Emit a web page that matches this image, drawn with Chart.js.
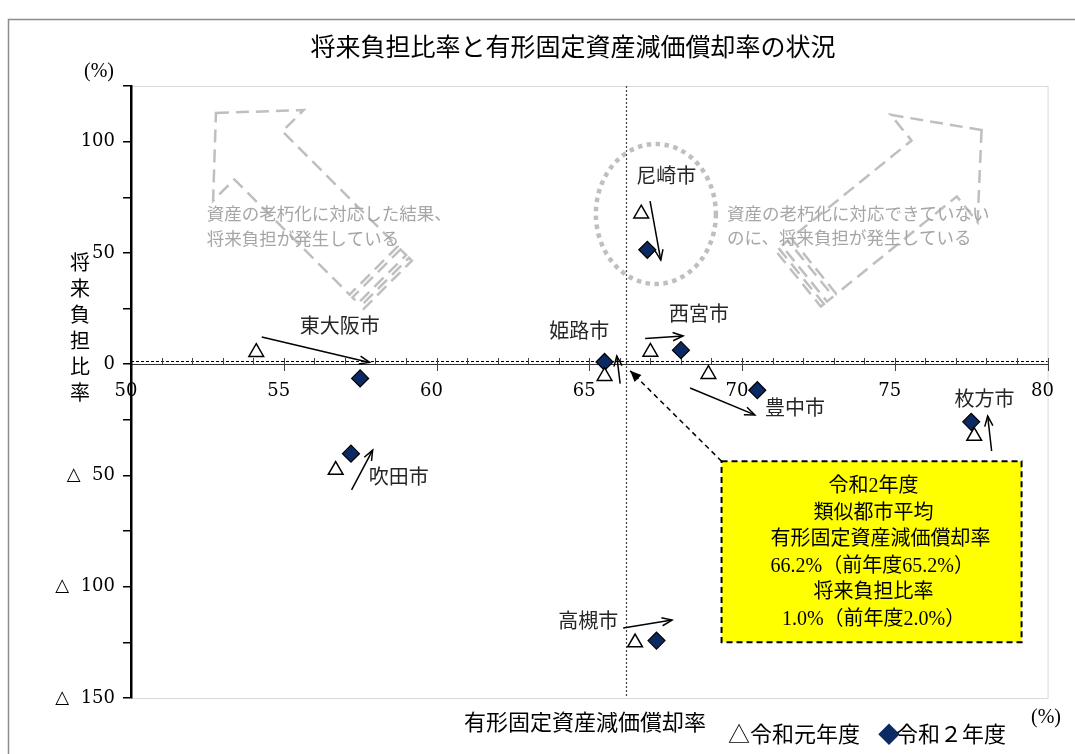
<!DOCTYPE html>
<html lang="ja">
<head>
<meta charset="utf-8">
<title>将来負担比率と有形固定資産減価償却率の状況</title>
<script src="https://cdn.jsdelivr.net/npm/chart.js"></script>
<style>
  html, body { margin: 0; padding: 0; background: #fff; }
  #wrap { width: 1075px; height: 754px; }
</style>
</head>
<body>
<div id="wrap"><canvas id="chart" width="1075" height="754"></canvas></div>
<script>
// 団体ごとの値（x: 有形固定資産減価償却率, y: 将来負担比率）
const cities = ['東大阪市', '吹田市', '姫路市', '西宮市', '尼崎市', '豊中市', '枚方市', '高槻市'];
const seriesNames = ['令和元年度', '令和２年度'];
const depRateR1 = [54.1, 56.7, 65.5, 67.0, 66.7, 68.9, 77.6, 66.5];
const debtRateR1 = [5.4, -47.6, -5.4, 5.5, 67.6, -4.5, -32.3, -125.1];
const depRateR2 = [57.5, 57.2, 65.5, 68.0, 66.9, 70.5, 77.5, 67.2];
const debtRateR2 = [-6.4, -40.2, 1.0, 6.3, 51.4, -11.7, -25.9, -124.2];

// 類似都市平均（令和2年度）
const avgDepRate = 66.2;
const avgDebtRate = 1.0;
const avgDepRatePrev = 65.2;
const avgDebtRatePrev = 2.0;

const xTicks = [50, 55, 60, 65, 70, 75, 80];
const yTicks = [100, 50, 0, -50, -100, -150];

// 団体名ラベルと推移矢印の位置（データ座標）
const labelX = [56.83, 58.76, 64.67, 68.59, 67.52, 71.73, 77.94, 64.97];
const labelY = [17.6, -50.6, 15.4, 23.0, 85.0, -19.2, -15.2, -115.0];
const arrowFromX = [54.28, 57.22, 66.01, 66.83, 66.99, 68.30, 78.17, 66.11];
const arrowFromY = [12.2, -56.5, -8.7, 11.5, 73.3, -10.7, -39.0, -118.5];
const arrowToX = [57.81, 57.91, 65.90, 68.07, 67.34, 70.42, 78.04, 67.71];
const arrowToY = [0.8, -38.6, 3.7, 12.7, 46.8, -22.8, -23.3, -115.0];

const JP = "'Noto Sans CJK JP', sans-serif";
const NUM = "'DejaVu Serif', 'Noto Sans CJK JP', serif";
const BOX = "'Liberation Serif', 'Noto Sans CJK JP', serif";
const GRAY = '#bfbfbf';

function arrow(ctx, x1, y1, x2, y2, filled) {
  const a = Math.atan2(y2 - y1, x2 - x1);
  const len = filled ? 12 : 11;
  const spread = filled ? 0.42 : 0.38;
  ctx.beginPath();
  ctx.moveTo(x1, y1);
  ctx.lineTo(x2, y2);
  ctx.stroke();
  ctx.setLineDash([]);
  ctx.beginPath();
  ctx.moveTo(x2 - len * Math.cos(a - spread), y2 - len * Math.sin(a - spread));
  ctx.lineTo(x2, y2);
  ctx.lineTo(x2 - len * Math.cos(a + spread), y2 - len * Math.sin(a + spread));
  if (filled) {
    ctx.closePath();
    ctx.fill();
  } else {
    ctx.stroke();
  }
}

// 縞模様の矢印（先端を原点に、ang の向きへ胴体が伸びる）
function stripedArrow(ctx, tx, ty, ang, g) {
  ctx.save();
  ctx.translate(tx, ty);
  ctx.rotate(ang);
  ctx.beginPath();
  ctx.moveTo(0, 0);
  ctx.lineTo(g.head, -g.headHalf);
  ctx.lineTo(g.head, -g.shaftHalf);
  ctx.lineTo(g.len - 20, -g.shaftHalf);
  ctx.lineTo(g.len - 20, g.shaftHalf);
  ctx.lineTo(g.head, g.shaftHalf);
  ctx.lineTo(g.head, g.headHalf);
  ctx.closePath();
  ctx.rect(g.len - 16, -g.shaftHalf, 8, 2 * g.shaftHalf);
  ctx.rect(g.len - 4, -g.shaftHalf, 4, 2 * g.shaftHalf);
  ctx.stroke();
  ctx.restore();
}

const decor = {
  id: 'decor',
  beforeDraw(chart) {
    const { ctx, chartArea: a, scales: { x, y } } = chart;
    ctx.save();
    ctx.fillStyle = '#fff';
    ctx.fillRect(0, 0, chart.width, chart.height);

    // 外枠
    ctx.strokeStyle = '#8c8c8c';
    ctx.lineWidth = 1.5;
    ctx.strokeRect(8.5, 19.5, 1100, 800);

    // プロットエリア枠
    ctx.strokeStyle = '#d9d9d9';
    ctx.lineWidth = 1;
    ctx.strokeRect(a.left + 0.5, a.top + 0.5, a.right - a.left, a.bottom - a.top);

    // 灰色の説明矢印
    ctx.strokeStyle = GRAY;
    ctx.lineWidth = 2.5;
    ctx.setLineDash([13, 7]);
    stripedArrow(ctx, x.getPixelForValue(52.78), y.getPixelForValue(112.9), Math.PI / 4,
      { head: 60, headHalf: 64, shaftHalf: 34, len: 243 });
    stripedArrow(ctx, x.getPixelForValue(77.84), y.getPixelForValue(105.2), 141 * Math.PI / 180,
      { head: 61, headHalf: 69, shaftHalf: 36, len: 236 });

    // 尼崎市を囲む点線
    ctx.setLineDash([4.5, 4.5]);
    ctx.lineWidth = 4.5;
    ctx.beginPath();
    ctx.ellipse(x.getPixelForValue(67.18), y.getPixelForValue(67.5), 60, 70, 0, 0, Math.PI * 2);
    ctx.stroke();

    ctx.setLineDash([]);
    ctx.fillStyle = '#a6a6a6';
    ctx.font = '17.5px ' + JP;
    ctx.textAlign = 'left';
    ctx.textBaseline = 'middle';
    ctx.fillText('資産の老朽化に対応した結果、', x.getPixelForValue(52.48), y.getPixelForValue(67.9));
    ctx.fillText('将来負担が発生している', x.getPixelForValue(52.48), y.getPixelForValue(56.7));
    ctx.fillText('資産の老朽化に対応できていない', x.getPixelForValue(69.51), y.getPixelForValue(67.9));
    ctx.fillText('のに、将来負担が発生している', x.getPixelForValue(69.51), y.getPixelForValue(57.2));
    ctx.restore();
  },
  beforeDatasetsDraw(chart) {
    const { ctx, chartArea: a, scales: { x, y } } = chart;
    ctx.save();
    // 類似都市平均の基準線
    const ax = Math.round(x.getPixelForValue(avgDepRate)) + 0.5;
    ctx.strokeStyle = '#404040';
    ctx.lineWidth = 1.2;
    ctx.setLineDash([2, 2]);
    ctx.beginPath();
    ctx.moveTo(ax, a.top);
    ctx.lineTo(ax, a.bottom);
    ctx.stroke();

    const ay = Math.round(y.getPixelForValue(avgDebtRate)) - 0.5;
    ctx.strokeStyle = '#000';
    ctx.lineWidth = 1;
    ctx.setLineDash([3, 2]);
    ctx.beginPath();
    ctx.moveTo(a.left, ay);
    ctx.lineTo(a.right, ay);
    ctx.stroke();

    // 横軸の目盛り
    ctx.setLineDash([]);
    ctx.strokeStyle = '#404040';
    const y0 = Math.round(y.getPixelForValue(0));
    for (let v = 51; v <= 80; v++) {
      const px = Math.round(x.getPixelForValue(v)) + 0.5;
      ctx.beginPath();
      ctx.moveTo(px, y0 - 6);
      ctx.lineTo(px, xTicks.includes(v) ? y0 + 7 : y0);
      ctx.stroke();
    }
    ctx.restore();
  },
  afterDatasetsDraw(chart) {
    const { ctx, scales: { x, y } } = chart;
    ctx.save();

    // 類似都市平均の吹き出し
    const bx1 = x.getPixelForValue(69.33), by1 = y.getPixelForValue(-43.6);
    const bx2 = x.getPixelForValue(79.15), by2 = y.getPixelForValue(-124.9);
    ctx.fillStyle = '#ffff00';
    ctx.fillRect(bx1, by1, bx2 - bx1, by2 - by1);
    ctx.strokeStyle = '#000';
    ctx.lineWidth = 2;
    ctx.setLineDash([6, 4]);
    ctx.strokeRect(bx1, by1, bx2 - bx1, by2 - by1);

    ctx.lineWidth = 1.5;
    ctx.setLineDash([5, 4]);
    ctx.fillStyle = '#000';
    arrow(ctx, bx1, by1, x.getPixelForValue(66.34), y.getPixelForValue(-3.0), true);

    ctx.setLineDash([]);
    ctx.fillStyle = '#000';
    ctx.textBaseline = 'middle';
    ctx.font = '20px ' + BOX;
    const cx = (bx1 + bx2) / 2 + 2;
    const lx = bx1 + 49;
    const lines = [
      ['令和2年度', 'c'],
      ['類似都市平均', 'c'],
      ['有形固定資産減価償却率', 'l'],
      [avgDepRate.toFixed(1) + '%（前年度' + avgDepRatePrev.toFixed(1) + '%）', 'l'],
      ['将来負担比率', 'c'],
      [avgDebtRate.toFixed(1) + '%（前年度' + avgDebtRatePrev.toFixed(1) + '%）', 'c']
    ];
    lines.forEach((ln, i) => {
      ctx.textAlign = ln[1] === 'c' ? 'center' : 'left';
      ctx.fillText(ln[0], ln[1] === 'c' ? cx : lx, by1 + 26 + i * 26.5);
    });

    // 前年度→今年度の推移矢印
    ctx.strokeStyle = '#000';
    ctx.lineWidth = 1.5;
    cities.forEach((c, i) => {
      arrow(ctx, x.getPixelForValue(arrowFromX[i]), y.getPixelForValue(arrowFromY[i]),
        x.getPixelForValue(arrowToX[i]), y.getPixelForValue(arrowToY[i]), false);
    });

    // 団体名
    ctx.fillStyle = '#262626';
    ctx.font = '20px ' + JP;
    ctx.textAlign = 'center';
    cities.forEach((c, i) => {
      ctx.fillText(c, x.getPixelForValue(labelX[i]), y.getPixelForValue(labelY[i]));
    });
    ctx.restore();
  },
  afterDraw(chart) {
    const { ctx } = chart;
    ctx.save();
    ctx.fillStyle = '#000';
    ctx.textBaseline = 'middle';
    ctx.textAlign = 'center';
    ctx.font = '25px ' + JP;
    ctx.fillText('将来負担比率と有形固定資産減価償却率の状況', 573, 46);

    ctx.font = "20px 'Liberation Serif', serif";
    ctx.fillText('(%)', 99, 72);
    ctx.fillText('(%)', 1046, 718);

    ctx.font = '20px ' + JP;
    '将来負担比率'.split('').forEach((ch, i) => ctx.fillText(ch, 80, 262 + i * 26));

    ctx.font = '22px ' + JP;
    ctx.fillText('有形固定資産減価償却率', 585, 722);

    ctx.textAlign = 'left';
    ctx.fillText('△' + seriesNames[0], 728, 734);
    ctx.fillStyle = '#0b2a63';
    ctx.fillText('◆', 878, 734);
    ctx.fillStyle = '#000';
    ctx.fillText(seriesNames[1], 896, 734);
    ctx.restore();
  }
};

const ctx = document.getElementById('chart').getContext('2d');
new Chart(ctx, {
  type: 'scatter',
  data: {
    datasets: [
      {
        label: seriesNames[0],
        data: cities.map((c, i) => ({ x: depRateR1[i], y: debtRateR1[i] })),
        pointStyle: 'triangle',
        pointRadius: 8.5,
        backgroundColor: '#fff',
        borderColor: '#000',
        borderWidth: 1.5
      },
      {
        label: seriesNames[1],
        data: cities.map((c, i) => ({ x: depRateR2[i], y: debtRateR2[i] })),
        pointStyle: 'rectRot',
        pointRadius: 8.5,
        backgroundColor: '#0b2a63',
        borderColor: '#000',
        borderWidth: 1.2
      }
    ]
  },
  options: {
    responsive: false,
    animation: false,
    events: [],
    layout: { padding: { top: 86, right: 26, bottom: 56, left: 0 } },
    plugins: {
      legend: { display: false },
      title: { display: false },
      tooltip: { enabled: false }
    },
    scales: {
      x: {
        type: 'linear',
        min: 50,
        max: 80,
        position: { y: 0 },
        ticks: {
          stepSize: 1,
          autoSkip: false,
          maxRotation: 0,
          padding: 16,
          labelOffset: -5,
          color: '#000',
          font: { family: NUM, size: 18 },
          callback: v => (xTicks.includes(v) ? String(v) : '')
        },
        grid: { display: false, drawTicks: false },
        border: { display: true, color: '#333', width: 1 }
      },
      y: {
        type: 'linear',
        min: -150,
        max: 125,
        position: 'left',
        afterFit: s => { s.width = 131; },
        ticks: {
          stepSize: 25,
          autoSkip: false,
          padding: 8,
          color: '#000',
          font: { family: NUM, size: 18 },
          callback: v => (yTicks.includes(v) ? (v < 0 ? '△  ' + (-v) : String(v)) : '')
        },
        grid: { drawOnChartArea: false, drawTicks: true, tickLength: 8, color: '#000', lineWidth: 1.5 },
        border: { display: true, color: '#000', width: 2.5 }
      }
    }
  },
  plugins: [decor]
});
</script>
</body>
</html>
